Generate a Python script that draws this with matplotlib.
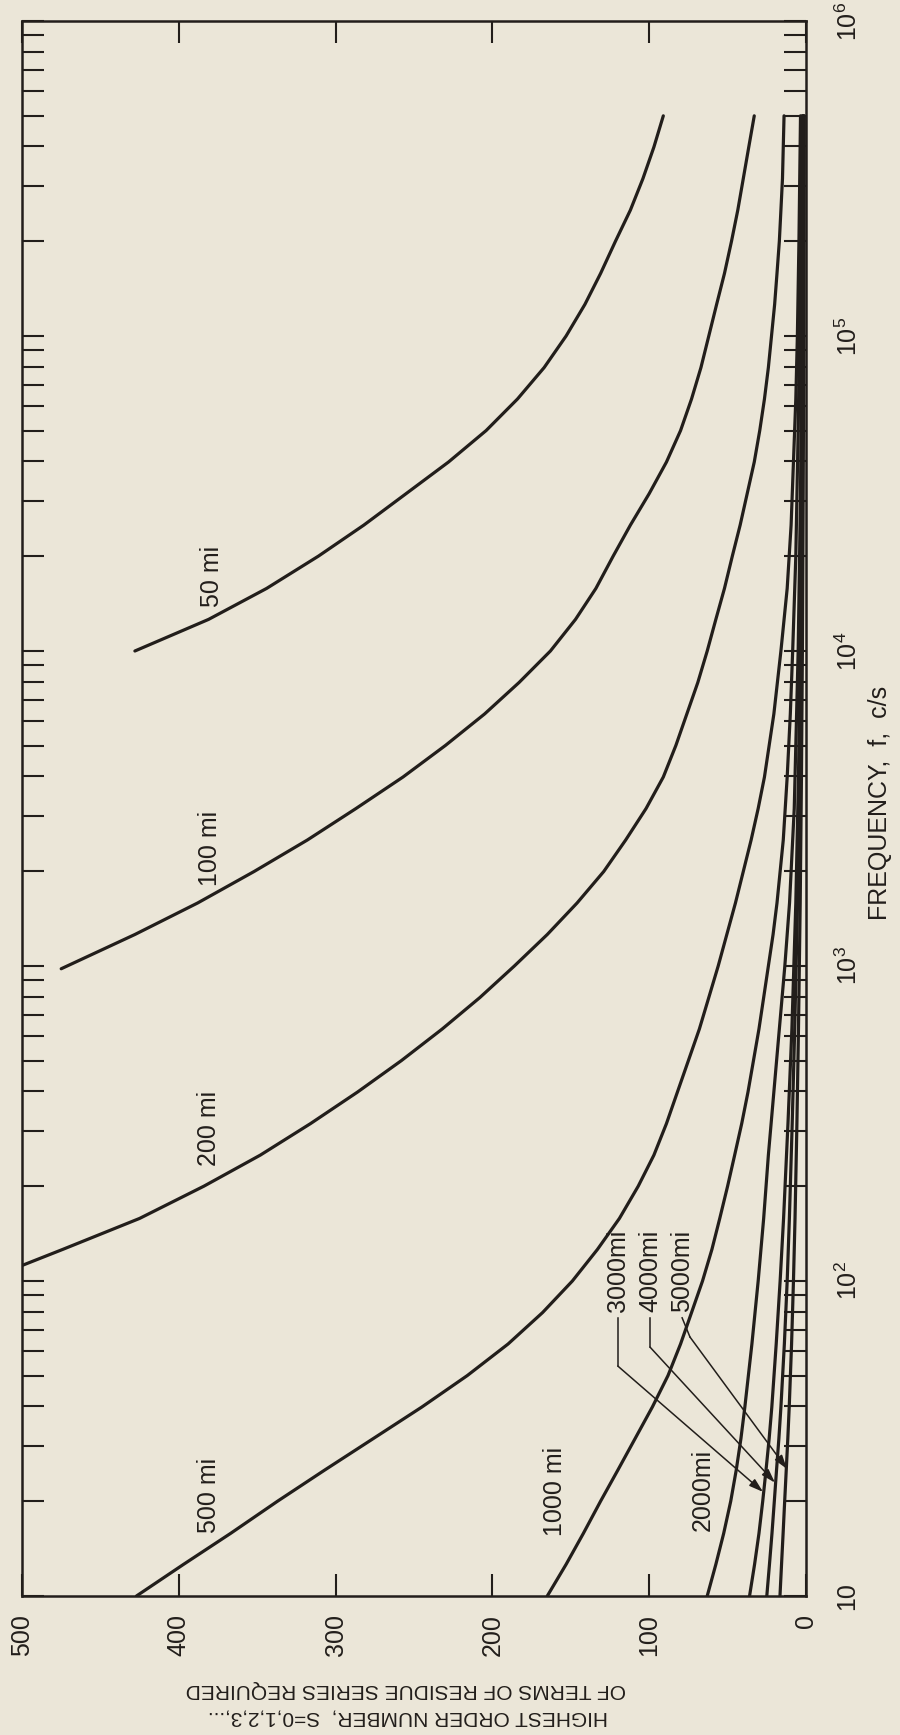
import matplotlib.pyplot as plt
from matplotlib.ticker import LogLocator, NullFormatter

# narrow lettering where available, then plain sans
plt.rcParams['font.family'] = ['Liberation Sans Narrow', 'Liberation Sans', 'DejaVu Sans']
plt.rcParams['mathtext.fontset'] = 'custom'
plt.rcParams['mathtext.rm'] = 'Liberation Sans'
plt.rcParams['mathtext.it'] = 'Liberation Sans'

paper = '#ebe6d8'
ink = '#221e1b'

# ---- curves: frequency (c/s) and highest order number s ----
freq_50mi = [1.0e4, 1.26e4, 1.58e4, 2.0e4, 2.51e4, 3.16e4, 3.98e4, 5.01e4, 6.31e4, 7.94e4,
             1.0e5, 1.26e5, 1.58e5, 2.0e5, 2.51e5, 3.16e5, 3.98e5, 5.0e5]
order_50mi = [428, 381, 344, 311, 282, 255, 228, 204, 184, 167,
              153, 141, 131, 121.5, 112, 104, 97, 91]

freq_100mi = [980, 1259, 1585, 1995, 2512, 3162, 3981, 5012, 6310, 7943,
              1.0e4, 1.26e4, 1.58e4, 2.0e4, 2.51e4, 3.16e4, 3.98e4, 5.01e4, 6.31e4, 7.94e4,
              1.0e5, 1.26e5, 1.58e5, 2.0e5, 2.51e5, 3.16e5, 3.98e5, 5.0e5]
order_100mi = [475, 428, 388, 352, 318, 287, 257, 230, 205, 183,
               163, 147, 134, 123, 112, 100, 89, 80, 73, 67,
               62, 57, 52, 47.5, 43.5, 40, 36.5, 33]

freq_200mi = [112, 126, 158, 200, 251, 316, 398, 501, 631, 794,
              1000, 1259, 1585, 1995, 2512, 3162, 3981, 5012, 6310, 7943,
              1.0e4, 1.26e4, 1.58e4, 2.0e4, 2.51e4, 3.16e4, 3.98e4, 5.01e4, 6.31e4, 7.94e4,
              1.0e5, 1.26e5, 1.58e5, 2.0e5, 2.51e5, 3.16e5, 3.98e5, 5.0e5]
order_200mi = [500, 474, 425, 384, 348, 316, 286, 258, 232, 208,
               186, 165, 146, 129, 115, 102, 91, 83, 76, 69,
               63, 57.5, 52, 47, 42, 37.5, 33, 29.5, 26.5, 24,
               22, 20, 18.5, 17, 16, 15, 14.5, 14]

freq_500mi = [10, 12.6, 15.8, 20.0, 25.1, 31.6, 39.8, 50.1, 63.1, 79.4,
              100, 126, 158, 200, 251, 316, 398, 501, 631, 794,
              1000, 1259, 1585, 1995, 2512, 3162, 3981, 6310, 1.0e4, 1.58e4,
              2.51e4, 3.98e4, 6.31e4, 1.0e5, 2.0e5, 5.0e5]
order_500mi = [427, 397, 367, 337, 307, 276, 245, 216, 190, 168,
               149, 133, 119, 107, 97, 89, 82, 75, 68, 62,
               56, 50.5, 45, 40, 35, 30.5, 26.5, 20.5, 16, 12,
               9.5, 8, 6.5, 5.5, 4.5, 3.5]

freq_1000mi = [10, 12.6, 15.8, 20.0, 25.1, 31.6, 39.8, 50.1, 63.1, 79.4,
               100, 126, 158, 200, 251, 316, 398, 501, 631, 794,
               1000, 1259, 1585, 2512, 3981, 6310, 1.0e4, 2.0e4, 5.01e4, 1.58e5, 5.0e5]
order_1000mi = [165, 153, 142, 131, 120, 109, 98, 88, 80, 73,
                66, 60, 55, 50, 45.5, 41, 37, 33.5, 30, 27,
                24, 21, 18.5, 14.5, 12, 10, 8.5, 6.5, 5, 3.5, 2.5]

freq_2000mi = [10, 12.6, 15.8, 20.0, 25.1, 31.6, 39.8, 63.1, 100, 158,
               251, 398, 631, 1000, 1585, 3162, 1.0e4, 3.16e4, 1.0e5, 5.0e5]
order_2000mi = [63, 57.5, 52.5, 48, 44.5, 41.5, 39, 34.5, 30.5, 27,
                24, 20.5, 17, 13.5, 10.5, 7.5, 5, 3.5, 2.7, 2]

freq_3000mi = [10, 12.6, 15.8, 20.0, 25.1, 31.6, 39.8, 63.1, 100, 158,
               316, 631, 1585, 3981, 1.0e4, 3.16e4, 1.0e5, 5.0e5]
order_3000mi = [36, 32.8, 30, 27.6, 25.5, 23.5, 21.8, 19, 16.5, 14.3,
                11.5, 9, 6.5, 4.8, 3.7, 2.8, 2.2, 1.7]

freq_4000mi = [10, 12.6, 15.8, 20.0, 25.1, 31.6, 39.8, 63.1, 100, 158,
               316, 631, 1585, 3981, 1.0e4, 3.16e4, 1.0e5, 5.0e5]
order_4000mi = [25, 23.3, 21.7, 20.2, 18.8, 17.3, 16, 13.8, 12, 10.6,
                8.8, 7.2, 5.4, 4.1, 3.2, 2.4, 1.9, 1.4]

freq_5000mi = [10, 12.6, 15.8, 20.0, 25.1, 31.6, 39.8, 63.1, 100, 158,
               316, 631, 1585, 3981, 1.0e4, 3.16e4, 1.0e5, 5.0e5]
order_5000mi = [16.6, 15.6, 14.6, 13.6, 12.6, 11.6, 10.7, 9.2, 8, 7,
                5.8, 4.8, 3.7, 2.9, 2.3, 1.8, 1.4, 1.1]

curves = [
    (freq_50mi, order_50mi), (freq_100mi, order_100mi), (freq_200mi, order_200mi),
    (freq_500mi, order_500mi), (freq_1000mi, order_1000mi), (freq_2000mi, order_2000mi),
    (freq_3000mi, order_3000mi), (freq_4000mi, order_4000mi), (freq_5000mi, order_5000mi),
]

order_ticks = [0, 100, 200, 300, 400, 500]
freq_ticks = [10, 1e2, 1e3, 1e4, 1e5, 1e6]
freq_ticklabels = ['10', '10$^{2}$', '10$^{3}$', '10$^{4}$', '10$^{5}$', '10$^{6}$']

# curve names written beside the lines: (text, order, frequency)
curve_labels = [
    ('50 mi', 379, 1.73e4), ('100 mi', 380, 2.37e3), ('200 mi', 381, 306),
    ('500 mi', 381, 20.8), ('1000 mi', 160, 21.4), ('2000mi', 66, 21.7),
]
# labels with leader arrows: (text, label order, label freq, leader points)
leader_labels = [
    ('3000mi', 120, 108, [(120, 76.4), (120, 53.7), (27.4, 21.4)]),
    ('4000mi', 99.5, 108, [(99.5, 76.4), (99.5, 61.7), (19.8, 22.9)]),
    ('5000mi', 79, 108, [(79, 76.4), (74, 66.4), (12.1, 25.3)]),
]

fig = plt.figure(figsize=(9, 17.35), dpi=100, facecolor=paper)
ax = fig.add_axes([22 / 900, 139 / 1735, 784 / 900, 1575 / 1735], facecolor=paper)

for freq, order in curves:
    ax.plot(order, freq, color=ink, lw=2.3, solid_capstyle='round', solid_joinstyle='round')

for text, s, f in curve_labels:
    ax.text(s, f, text, rotation=90, ha='center', va='center', fontsize=18, color=ink)

for text, s, f, pts in leader_labels:
    ax.text(s, f, text, rotation=90, ha='center', va='center', fontsize=18, color=ink)
    xs = [p[0] for p in pts[:-1]]
    ys = [p[1] for p in pts[:-1]]
    ax.plot(xs, ys, color=ink, lw=1.1)
    ax.annotate('', xy=pts[-1], xytext=pts[-2],
                arrowprops=dict(arrowstyle='-|>,head_length=0.7,head_width=0.22',
                                color=ink, lw=1.1, shrinkA=0, shrinkB=0,
                                mutation_scale=12))

ax.set_yscale('log')
ax.set_ylim(10, 1e6)
ax.set_xlim(500, 0)

ax.set_xticks(order_ticks)
ax.set_xticklabels([str(v) for v in order_ticks], rotation=90)
ax.set_yticks(freq_ticks)
ax.set_yticklabels(freq_ticklabels)
ax.yaxis.set_minor_locator(LogLocator(base=10, subs=range(2, 10), numticks=30))
ax.yaxis.set_minor_formatter(NullFormatter())

ax.tick_params(axis='both', which='both', direction='in', length=15.8, width=1.5,
               color=ink, labelcolor=ink, top=True, right=True, left=True, bottom=True,
               labelleft=False, labelright=True, labeltop=False, labelbottom=True)
ax.tick_params(axis='x', pad=13, labelsize=18)
ax.tick_params(axis='y', pad=21, labelsize=18)
for lab in ax.get_yticklabels():
    lab.set_rotation(90)
    lab.set_va('center')

for sp in ax.spines.values():
    sp.set_linewidth(1.8)
    sp.set_color(ink)

fig.text(880 / 900, 1 - 803 / 1735, 'FREQUENCY,  f,  c/s', rotation=90,
         ha='center', va='center', fontsize=18, color=ink)
fig.text(408 / 900, 1 - 1717 / 1735, 'HIGHEST ORDER NUMBER,  S=0,1,2,3,...',
         rotation=180, ha='center', va='center', fontsize=15, color=ink)
fig.text(406 / 900, 1 - 1689 / 1735, 'OF TERMS OF RESIDUE SERIES REQUIRED',
         rotation=180, ha='center', va='center', fontsize=15, color=ink)

fig.savefig('out.png', dpi=100, facecolor=paper)
